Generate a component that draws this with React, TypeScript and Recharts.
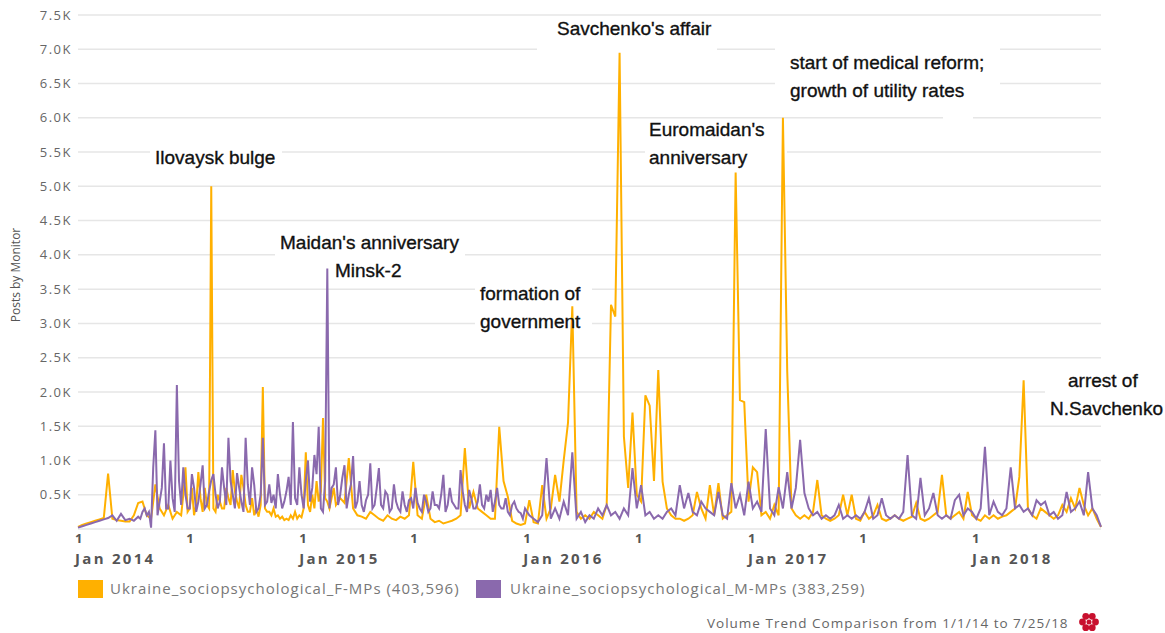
import React from "react";
import { LineChart, Line, XAxis, YAxis, CartesianGrid, ReferenceArea } from "recharts";

// Weekly values, starting 1 Jan 2014 (one value per 7 days) through 25 Jul 2018
const femaleMPs: number[] = [
  30, 60, 80, 100, 120, 140, 160, 810, 150, 130,
  120, 110, 110, 200, 380, 400, 200, 150, 650, 300,
  200, 350, 150, 250, 200, 900, 300, 200, 830, 250,
  350, 5000, 250, 400, 300, 450, 860, 400, 790, 350,
  250, 200, 180, 2070, 250, 200, 180, 150, 130, 130,
  150, 150, 170, 1120, 250, 300, 400, 1620, 400, 450,
  350, 450, 380, 1035, 300, 200, 180, 150, 250, 200,
  150, 120, 200, 150, 130, 180, 150, 200, 980, 200,
  150, 500, 150, 100, 120, 80, 100, 120, 150, 200,
  1180, 300, 540, 300, 250, 200, 150, 150, 1490, 700,
  470, 120, 80, 60, 80, 420, 100, 80, 640, 150,
  300, 790, 400, 1000, 1550, 3250, 250, 150, 200, 150,
  250, 200, 150, 350, 3270, 3100, 6950, 1350, 600, 1700,
  500, 400, 1950, 1800, 700, 2320, 690, 300, 200, 150,
  150, 120, 150, 200, 540, 300, 150, 640, 200, 670,
  150, 200, 250, 5200, 1880, 1850, 400, 900, 830, 200,
  250, 150, 350, 200, 6000, 2300, 300, 200, 150, 200,
  150, 250, 715, 200, 150, 120, 150, 200, 500, 200,
  500, 150, 120, 250, 150, 200, 350, 150, 120, 150,
  200, 150, 120, 150, 180, 380, 150, 120, 150, 200,
  250, 790, 200, 150, 200, 250, 150, 540, 200, 150,
  120, 200, 150, 200, 150, 180, 200, 250, 300, 760,
  2170, 300, 200, 150, 300, 250, 200, 150, 200, 350,
  250, 450, 300, 600, 350, 200, 300, 150, 30,
];

const maleMPs: number[] = [
  20, 40, 60, 80, 100, 120, 140, 160, 200, 120,
  220, 130, 150, 120, 180, 250, 200, 20, 1440, 400,
  1250, 300, 450, 2100, 350, 500, 300, 600, 400, 930,
  350, 710, 500, 400, 600, 1330, 500, 815, 400, 1330,
  350, 640, 300, 1330, 400, 380, 300, 500, 400, 760,
  1560, 350, 500, 715, 400, 1080, 1490, 250, 3800, 600,
  900, 500, 930, 500, 1065, 400, 350, 420, 960, 350,
  890, 300, 500, 300, 400, 250, 350, 420, 300, 380,
  250, 400, 300, 350, 300, 790, 350, 400, 300, 860,
  350, 570, 300, 400, 350, 500, 570, 400, 350, 300,
  250, 350, 300, 230, 300, 200, 150, 100, 200, 1035,
  150, 300, 150, 400, 200, 1120, 150, 250, 100, 200,
  150, 300, 200, 350, 200, 250, 150, 300, 200, 890,
  300, 640, 200, 250, 150, 200, 150, 250, 300, 200,
  640, 300, 525, 250, 200, 400, 300, 250, 200, 540,
  200, 150, 670, 300, 500, 200, 690, 300, 400, 250,
  1460, 300, 200, 610, 300, 830, 300, 600, 1300, 525,
  300, 200, 250, 150, 200, 150, 200, 350, 150, 200,
  150, 200, 150, 250, 450, 150, 200, 450, 200, 150,
  200, 150, 250, 1080, 200, 150, 745, 200, 300, 525,
  200, 150, 200, 150, 420, 500, 200, 300, 250, 150,
  300, 1200, 200, 400, 250, 200, 300, 900, 300, 350,
  250, 300, 200, 420, 350, 400, 200, 250, 150, 200,
  540, 250, 300, 400, 200, 830, 300, 200, 30,
];

// Extra mid-week readings for the dense stretches (mid-week of week index start+i)
const maleMidStart = 14;
const maleMid: number[] = [
  150, 300, 250, 900, 200, 600, 300, 1000, 250, 700,
  900, 300, 800, 250, 650, 300, 550, 800, 300, 900,
  350, 700, 300, 600, 250, 650, 900, 250, 500, 350,
  650, 500, 800, 300, 550, 350, 450, 900, 300, 1000,
  600, 800, 300, 700, 300, 650, 350, 750, 300, 650,
  300, 700, 250, 500, 300, 600, 350, 550, 250, 650,
  300, 550, 250, 450, 600, 300, 500, 250, 550, 350,
  500, 250, 600, 350, 300, 550, 250, 450, 300, 650,
  300, 400, 250, 600, 300, 450, 200, 400, 250, 150,
];
const femaleMidStart = 24;
const femaleMid: number[] = [
  500, 250, 600, 350, 450, 600, 300, 300, 500, 300,
  600, 350, 550, 300, 600, 250, 450, 300, 350, 300,
  250, 300, 200, 180, 150, 200, 250, 200, 300, 350,
  500, 700, 550, 450, 300, 600,
];

// X ticks: days since 1 Jan 2014
const tickDays = [0, 181, 365, 546, 730, 912, 1096, 1277, 1461];
const tickMonthLabels = ["Jan 2014", "", "Jan 2015", "", "Jan 2016", "", "Jan 2017", "", "Jan 2018"];
const yTicks = [500, 1000, 1500, 2000, 2500, 3000, 3500, 4000, 4500, 5000, 5500, 6000, 6500, 7000, 7500];

const seriesNames = [
  "Ukraine_sociopsychological_F-MPs (403,596)",
  "Ukraine_sociopsychological_M-MPs (383,259)",
];

const annotations: { lines: string[]; x: number; y: number }[] = [
  { lines: ["Ilovaysk bulge"], x: 155, y: 164 },
  { lines: ["Savchenko's affair"], x: 557, y: 35 },
  { lines: ["start of medical reform;", "growth of utility rates"], x: 790, y: 69 },
  { lines: ["Euromaidan's", "anniversary"], x: 649, y: 136 },
  { lines: ["Maidan's anniversary"], x: 280, y: 249 },
  { lines: ["Minsk-2"], x: 335, y: 277 },
  { lines: ["formation of", "government"], x: 480, y: 300 },
  { lines: ["arrest of"], x: 1068, y: 387 },
  { lines: ["N.Savchenko"], x: 1050, y: 415 },
];

const ORANGE = "#FFB000";
const PURPLE = "#8A69AD";
const DAYS = 1666;
const PLOT = { left: 78, right: 1101, top: 15, bottom: 529 };
const pxToDay = (px: number) => ((px - PLOT.left) / (PLOT.right - PLOT.left)) * DAYS;
const pxToVal = (py: number) => ((PLOT.bottom - py) / (PLOT.bottom - PLOT.top)) * 7500;

// white patches behind annotation text (pixel boxes)
const masks = [
  [150, 145, 282, 168],
  [537, 18, 717, 57],
  [775, 40, 1000, 100],
  [943, 112, 973, 124],
  [645, 120, 787, 168],
  [275, 232, 465, 282],
  [475, 283, 592, 332],
  [1045, 370, 1101, 420],
];

type Row = { d: number; f?: number; m?: number };
const rows: Row[] = femaleMPs.map((f, i) => ({ d: i * 7, f, m: maleMPs[i] }));
const midRows: Record<number, Row> = {};
maleMid.forEach((m, i) => {
  const w = maleMidStart + i;
  midRows[w] = { ...(midRows[w] || { d: w * 7 + 3.5 }), m };
});
femaleMid.forEach((f, i) => {
  const w = femaleMidStart + i;
  midRows[w] = { ...(midRows[w] || { d: w * 7 + 3.5 }), f };
});
const data: Row[] = [...rows, ...Object.values(midRows)].sort((a, b) => a.d - b.d);

const XTick = (props: any) => {
  const { x, y, payload } = props;
  const idx = tickDays.indexOf(payload.value);
  const label = idx >= 0 ? tickMonthLabels[idx] : "";
  return (
    <g>
      <text x={x - 3} y={y + 6} textAnchor="start" fontFamily="Open Sans" fontSize={13} fontWeight={700} fill="#555">
        1
      </text>
      {label && (
        <text x={x - 3} y={y + 27} textAnchor="start" fontFamily="Open Sans" fontSize={15} fontWeight={700} fill="#555" letterSpacing={2.3}>
          {label}
        </text>
      )}
    </g>
  );
};

export default function App() {
  return (
    <div style={{ position: "absolute", left: 0, top: 0, width: 1165, height: 633, background: "#fff" }}>
      <LineChart width={1165} height={633} data={data} margin={{ top: 15, right: 64, left: 0, bottom: 59 }}>
        <CartesianGrid horizontal vertical={false} stroke="#e6e6e6" strokeWidth={1.5} />
        <XAxis
          type="number"
          dataKey="d"
          domain={[0, DAYS]}
          ticks={tickDays}
          tick={<XTick />}
          axisLine={false}
          tickLine={false}
          height={45}
          interval={0}
        />
        <YAxis
          domain={[0, 7500]}
          ticks={yTicks}
          width={78}
          axisLine={false}
          tickLine={false}
          tickMargin={0}
          interval={0}
          tickFormatter={(v: number) => (v / 1000).toFixed(1) + "K"}
          tick={{ fontFamily: "Open Sans", fontSize: 13, fill: "#666", letterSpacing: 1.5 }}
        />
        {masks.map((b, i) => (
          <ReferenceArea
            key={i}
            x1={pxToDay(b[0])}
            x2={pxToDay(b[2])}
            y1={pxToVal(b[3])}
            y2={pxToVal(b[1])}
            fill="#fff"
            fillOpacity={1}
            stroke="none"
            ifOverflow="visible"
          />
        ))}
        <Line type="linear" dataKey="f" stroke={ORANGE} strokeWidth={2} dot={false} connectNulls isAnimationActive={false} />
        <Line type="linear" dataKey="m" stroke={PURPLE} strokeWidth={2} dot={false} connectNulls isAnimationActive={false} />
      </LineChart>
      <svg width={1165} height={633} style={{ position: "absolute", left: 0, top: 0, pointerEvents: "none" }}>
        <text
          transform="translate(20,275) rotate(-90)"
          textAnchor="middle"
          fontFamily="Open Sans"
          fontSize={12}
          fill="#555"
        >
          Posts by Monitor
        </text>
        {annotations.map((a, i) =>
          a.lines.map((l, j) => (
            <text
              key={i + "-" + j}
              x={a.x}
              y={a.y + j * 28}
              fontFamily="Liberation Sans, Arial"
              fontSize={19}
              fill="#111"
              stroke="#111"
              strokeWidth={0.35}
            >
              {l}
            </text>
          ))
        )}
        <rect x={78} y={580} width={25} height={18} fill={ORANGE} />
        <text x={110} y={594} fontFamily="Open Sans" fontSize={15} fill="#777" letterSpacing={1}>
          {seriesNames[0]}
        </text>
        <rect x={476} y={580} width={25} height={18} fill={PURPLE} />
        <text x={510} y={594} fontFamily="Open Sans" fontSize={15} fill="#777" letterSpacing={1}>
          {seriesNames[1]}
        </text>
        <text x={707} y={628} fontFamily="Open Sans" fontSize={13.5} fill="#666" letterSpacing={1}>
          Volume Trend Comparison from 1/1/14 to 7/25/18
        </text>
        <g fill="#C8102E">
          {[0, 60, 120, 180, 240, 300].map((a) => (
            <circle
              key={a}
              cx={1089 + 6.5 * Math.cos((a * Math.PI) / 180)}
              cy={622 + 6.5 * Math.sin((a * Math.PI) / 180)}
              r={3.4}
            />
          ))}
          <circle cx={1089} cy={622} r={2.5} />
        </g>
      </svg>
    </div>
  );
}
